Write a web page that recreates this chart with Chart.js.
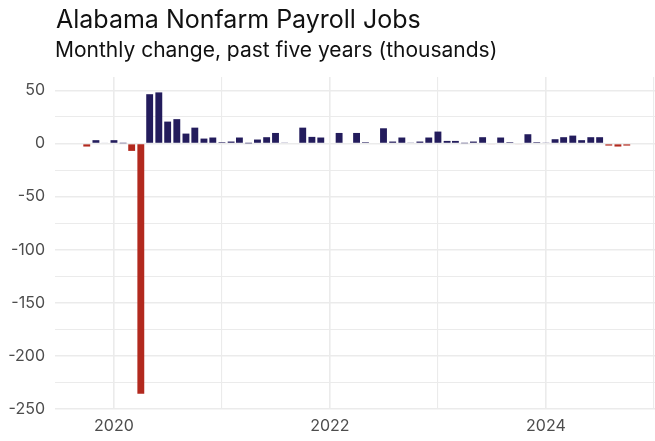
<!DOCTYPE html>
<html>
<head>
<meta charset="utf-8">
<script src="https://cdn.jsdelivr.net/npm/chart.js@4.4.1/dist/chart.umd.min.js"></script>
<style>
  html, body { margin: 0; padding: 0; background: #ffffff; }
  #wrap { width: 655px; height: 441px; }
</style>
</head>
<body>
<div id="wrap"><canvas id="jobs" width="655" height="441"></canvas></div>
<script>
// monthly change in Alabama nonfarm payroll jobs, thousands (Oct 2019 - Oct 2024)
const months = [
    "2019-10", "2019-11", "2019-12",
    "2020-01", "2020-02", "2020-03", "2020-04", "2020-05", "2020-06",
    "2020-07", "2020-08", "2020-09", "2020-10", "2020-11", "2020-12",
    "2021-01", "2021-02", "2021-03", "2021-04", "2021-05", "2021-06",
    "2021-07", "2021-08", "2021-09", "2021-10", "2021-11", "2021-12",
    "2022-01", "2022-02", "2022-03", "2022-04", "2022-05", "2022-06",
    "2022-07", "2022-08", "2022-09", "2022-10", "2022-11", "2022-12",
    "2023-01", "2023-02", "2023-03", "2023-04", "2023-05", "2023-06",
    "2023-07", "2023-08", "2023-09", "2023-10", "2023-11", "2023-12",
    "2024-01", "2024-02", "2024-03", "2024-04", "2024-05", "2024-06",
    "2024-07", "2024-08", "2024-09", "2024-10"
];
const jobChange = [
    -2.8, 3.2, 0.8,
    3.2, 0.3, -6.9, -235.6, 46.5, 48.2,
    20.7, 23.0, 9.4, 15.0, 4.7, 5.7,
    1.3, 1.9, 5.7, 0.2, 3.8, 6.0,
    10.0, 0.6, 0.0, 15.0, 6.3, 5.7,
    0.0, 10.0, 0.0, 10.0, 1.3, 0.0,
    14.4, 1.9, 5.7, 0.6, 1.9, 5.7,
    11.3, 2.5, 2.5, 0.3, 1.9, 6.0,
    -0.8, 5.7, 1.3, -0.8, 8.8, 1.3,
    0.6, 4.1, 6.0, 7.5, 3.2, 6.0,
    6.0, -1.9, -2.8, -1.9
];
const xTicks = [2020, 2021, 2022, 2023, 2024, 2025];
const xLabels = ["2020", "", "2022", "", "2024", ""];
const yTicks = [-250, -225, -200, -175, -150, -125, -100, -75, -50, -25, 0, 25, 50];

const titleText = "Alabama Nonfarm Payroll Jobs";
const subtitleText = "Monthly change, past five years (thousands)";

const posColor = "#231c5c";
const negColor = "#b2291e";
const gridColor = "#ebebeb";

// date -> decimal year, like a date axis would place it
function decYear(s) {
    const y = +s.slice(0, 4), m = +s.slice(5, 7);
    const start = Date.UTC(y, 0, 1), end = Date.UTC(y + 1, 0, 1);
    return y + (Date.UTC(y, m - 1, 1) - start) / (end - start);
}

const points = months.map((m, i) => ({ x: decYear(m), y: jobChange[i] }));

const titles = {
    id: "titles",
    afterDraw(chart) {
        const c = chart.ctx;
        const left = chart.chartArea.left + 1;
        c.save();
        c.fillStyle = "#111111";
        c.textBaseline = "alphabetic";
        c.textAlign = "left";
        c.font = "25px Inter";
        c.fillText(titleText, left, 27.5);
        c.font = "21px Inter";
        c.fillText(subtitleText, left - 1, 56.5);
        c.restore();
    }
};

new Chart(document.getElementById("jobs"), {
    type: "bar",
    data: {
        datasets: [{
            data: points,
            backgroundColor: jobChange.map(v => v < 0 ? negColor : posColor),
            borderWidth: 0,
            barPercentage: 0.83,
            categoryPercentage: 1.0
        }]
    },
    options: {
        responsive: false,
        animation: false,
        devicePixelRatio: 1,
        layout: { padding: { top: 77, left: 0, right: 0, bottom: 0 } },
        plugins: {
            legend: { display: false },
            tooltip: { enabled: false }
        },
        scales: {
            x: {
                type: "linear",
                offset: false,
                min: 2019.454,
                max: 2025.01,
                afterBuildTicks: s => { s.ticks = xTicks.map(v => ({ value: v })); },
                afterFit: s => {
                    s.height = 32;
                    s.paddingLeft = 0;
                    s.paddingRight = 0;
                },
                ticks: {
                    autoSkip: false,
                    maxRotation: 0,
                    padding: 8,
                    color: "#4d4d4d",
                    font: { family: "Inter", size: 16 },
                    callback: (v, i) => xLabels[i]
                },
                grid: {
                    offset: false,
                    color: gridColor,
                    lineWidth: c => (c.tick && c.tick.value % 2 === 0) ? 1.6 : 1.1,
                    drawTicks: false
                },
                border: { display: false }
            },
            y: {
                min: -250,
                max: 62.7,
                afterBuildTicks: s => { s.ticks = yTicks.map(v => ({ value: v })); },
                afterFit: s => { s.width = 55; },
                ticks: {
                    autoSkip: false,
                    padding: 10,
                    color: "#4d4d4d",
                    font: { family: "Inter", size: 16 },
                    callback: v => v % 50 === 0 ? String(v) : ""
                },
                grid: {
                    color: gridColor,
                    lineWidth: c => (c.tick && c.tick.value % 50 === 0) ? 1.6 : 1.1,
                    drawTicks: false
                },
                border: { display: false }
            }
        }
    },
    plugins: [titles]
});
</script>
</body>
</html>
